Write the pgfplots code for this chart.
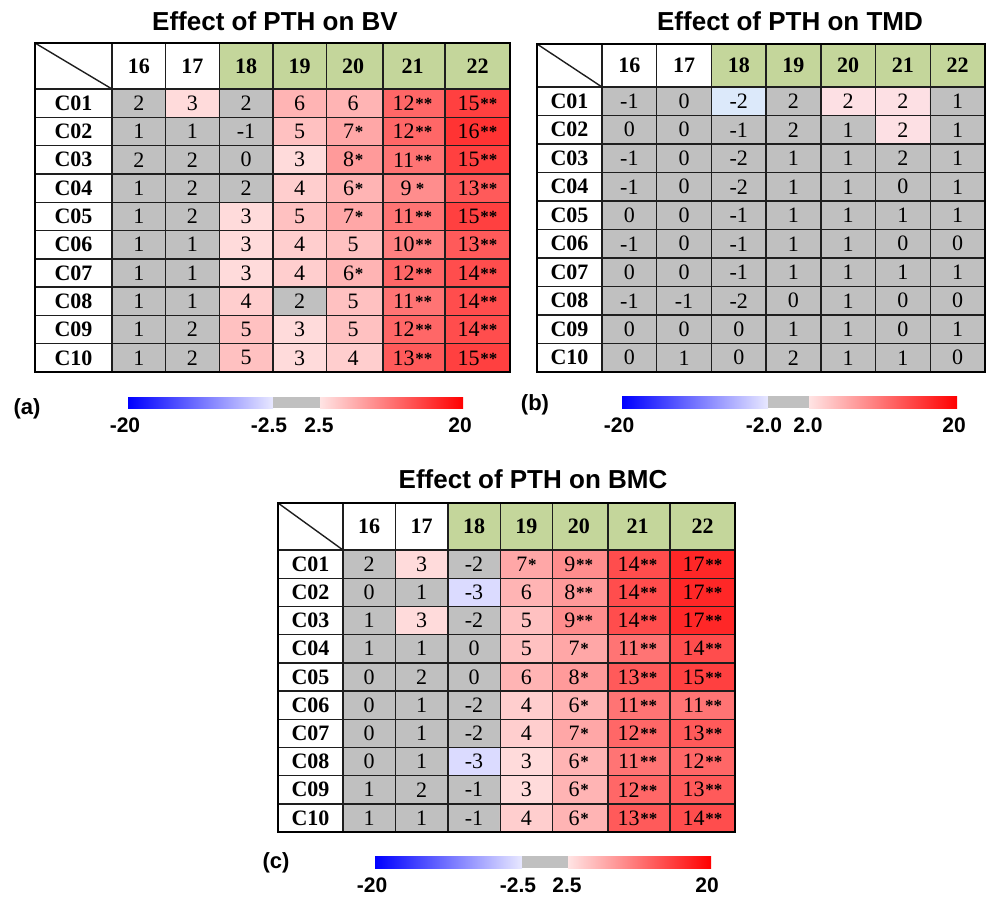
\documentclass[border=0pt]{standalone}
\usepackage{fontspec}
\setmainfont{Liberation Serif}
\newfontfamily\arial{Liberation Sans}
\usepackage{pgfplots}
\usepackage{pgfplotstable}
\pgfplotsset{compat=1.18}

\definecolor{hdrgreen}{RGB}{196,214,155}
\definecolor{cellgray}{RGB}{192,192,192}
\definecolor{lowblue}{RGB}{232,232,255}
\definecolor{lowred}{RGB}{255,228,228}
\definecolor{gridcol}{RGB}{30,30,30}

% colour scales: grey inside +-2.5 (BV, BMC) or +-2.0 (TMD)
\pgfplotsset{
  colormap={pthB}{rgb255(0pt)=(0,0,255) rgb255(178pt)=(220,233,250)
    rgb255(179pt)=(192,192,192) rgb255(221pt)=(192,192,192)
    rgb255(222pt)=(253,224,228) rgb255(400pt)=(255,0,0)},
  colormap={pthA}{rgb255(0pt)=(0,0,255) rgb255(175pt)=(225,225,255)
    rgb255(176pt)=(192,192,192) rgb255(224pt)=(192,192,192)
    rgb255(225pt)=(255,225,225) rgb255(400pt)=(255,0,0)},
}

\protected\def\sA{\kern0.4pt\raisebox{0.5pt}{\fontsize{8.5}{8.5}\selectfont\bfseries *}}
\protected\def\sB{\kern0.4pt\raisebox{0.5pt}{\fontsize{8.5}{8.5}\selectfont\bfseries **}}
\newcommand\tabfont{\fontsize{11}{11}\selectfont}
\newcommand\sansfont{\arial\bfseries}

\tikzset{
  hdr/.style={font=\tabfont\bfseries, inner sep=0pt, anchor=center},
  grd/.style={gridcol, line width=0.7pt},
}

% c = column (1..7 -> 16..22), r = row (C01..C10), v = value for colour, lab = printed
\pgfplotstableread[row sep=\\]{
c r v lab\\
1 1 2 2\\ 2 1 3 3\\ 3 1 2 2\\ 4 1 6 6\\ 5 1 6 6\\ 6 1 12 12\sB\\ 7 1 15 15\sB\\
1 2 1 1\\ 2 2 1 1\\ 3 2 -1 -1\\ 4 2 5 5\\ 5 2 7 7\sA\\ 6 2 12 12\sB\\ 7 2 16 16\sB\\
1 3 2 2\\ 2 3 2 2\\ 3 3 0 0\\ 4 3 3 3\\ 5 3 8 8\sA\\ 6 3 11 11\sB\\ 7 3 15 15\sB\\
1 4 1 1\\ 2 4 2 2\\ 3 4 2 2\\ 4 4 4 4\\ 5 4 6 6\sA\\ 6 4 9 9\,\sA\\ 7 4 13 13\sB\\
1 5 1 1\\ 2 5 2 2\\ 3 5 3 3\\ 4 5 5 5\\ 5 5 7 7\sA\\ 6 5 11 11\sB\\ 7 5 15 15\sB\\
1 6 1 1\\ 2 6 1 1\\ 3 6 3 3\\ 4 6 4 4\\ 5 6 5 5\\ 6 6 10 10\sB\\ 7 6 13 13\sB\\
1 7 1 1\\ 2 7 1 1\\ 3 7 3 3\\ 4 7 4 4\\ 5 7 6 6\sA\\ 6 7 12 12\sB\\ 7 7 14 14\sB\\
1 8 1 1\\ 2 8 1 1\\ 3 8 4 4\\ 4 8 2 2\\ 5 8 5 5\\ 6 8 11 11\sB\\ 7 8 14 14\sB\\
1 9 1 1\\ 2 9 2 2\\ 3 9 5 5\\ 4 9 3 3\\ 5 9 5 5\\ 6 9 12 12\sB\\ 7 9 14 14\sB\\
1 10 1 1\\ 2 10 2 2\\ 3 10 5 5\\ 4 10 3 3\\ 5 10 4 4\\ 6 10 13 13\sB\\ 7 10 15 15\sB\\
}\bvdata

\pgfplotstableread[row sep=\\]{
c r v lab\\
1 1 -1 -1\\ 2 1 0 0\\ 3 1 -2.2 -2\\ 4 1 2 2\\ 5 1 2.2 2\\ 6 1 2.2 2\\ 7 1 1 1\\
1 2 0 0\\ 2 2 0 0\\ 3 2 -1 -1\\ 4 2 2 2\\ 5 2 1 1\\ 6 2 2.2 2\\ 7 2 1 1\\
1 3 -1 -1\\ 2 3 0 0\\ 3 3 -2 -2\\ 4 3 1 1\\ 5 3 1 1\\ 6 3 2 2\\ 7 3 1 1\\
1 4 -1 -1\\ 2 4 0 0\\ 3 4 -2 -2\\ 4 4 1 1\\ 5 4 1 1\\ 6 4 0 0\\ 7 4 1 1\\
1 5 0 0\\ 2 5 0 0\\ 3 5 -1 -1\\ 4 5 1 1\\ 5 5 1 1\\ 6 5 1 1\\ 7 5 1 1\\
1 6 -1 -1\\ 2 6 0 0\\ 3 6 -1 -1\\ 4 6 1 1\\ 5 6 1 1\\ 6 6 0 0\\ 7 6 0 0\\
1 7 0 0\\ 2 7 0 0\\ 3 7 -1 -1\\ 4 7 1 1\\ 5 7 1 1\\ 6 7 1 1\\ 7 7 1 1\\
1 8 -1 -1\\ 2 8 -1 -1\\ 3 8 -2 -2\\ 4 8 0 0\\ 5 8 1 1\\ 6 8 0 0\\ 7 8 0 0\\
1 9 0 0\\ 2 9 0 0\\ 3 9 0 0\\ 4 9 1 1\\ 5 9 1 1\\ 6 9 0 0\\ 7 9 1 1\\
1 10 0 0\\ 2 10 1 1\\ 3 10 0 0\\ 4 10 2 2\\ 5 10 1 1\\ 6 10 1 1\\ 7 10 0 0\\
}\tmddata

\pgfplotstableread[row sep=\\]{
c r v lab\\
1 1 2 2\\ 2 1 3 3\\ 3 1 -2 -2\\ 4 1 7 7\sA\\ 5 1 9 9\sB\\ 6 1 14 14\sB\\ 7 1 17 17\sB\\
1 2 0 0\\ 2 2 1 1\\ 3 2 -3 -3\\ 4 2 6 6\\ 5 2 8 8\sB\\ 6 2 14 14\sB\\ 7 2 17 17\sB\\
1 3 1 1\\ 2 3 3 3\\ 3 3 -2 -2\\ 4 3 5 5\\ 5 3 9 9\sB\\ 6 3 14 14\sB\\ 7 3 17 17\sB\\
1 4 1 1\\ 2 4 1 1\\ 3 4 0 0\\ 4 4 5 5\\ 5 4 7 7\sA\\ 6 4 11 11\sB\\ 7 4 14 14\sB\\
1 5 0 0\\ 2 5 2 2\\ 3 5 0 0\\ 4 5 6 6\\ 5 5 8 8\sA\\ 6 5 13 13\sB\\ 7 5 15 15\sB\\
1 6 0 0\\ 2 6 1 1\\ 3 6 -2 -2\\ 4 6 4 4\\ 5 6 6 6\sA\\ 6 6 11 11\sB\\ 7 6 11 11\sB\\
1 7 0 0\\ 2 7 1 1\\ 3 7 -2 -2\\ 4 7 4 4\\ 5 7 7 7\sA\\ 6 7 12 12\sB\\ 7 7 13 13\sB\\
1 8 0 0\\ 2 8 1 1\\ 3 8 -3 -3\\ 4 8 3 3\\ 5 8 6 6\sA\\ 6 8 11 11\sB\\ 7 8 12 12\sB\\
1 9 1 1\\ 2 9 2 2\\ 3 9 -1 -1\\ 4 9 3 3\\ 5 9 6 6\sA\\ 6 9 12 12\sB\\ 7 9 13 13\sB\\
1 10 1 1\\ 2 10 1 1\\ 3 10 -1 -1\\ 4 10 4 4\\ 5 10 6 6\sA\\ 6 10 13 13\sB\\ 7 10 14 14\sB\\
}\bmcdata

\begin{document}
\begin{tikzpicture}
\begin{axis}[
  scale only axis, width=494pt, height=448pt,
  xmin=0, xmax=988, ymin=0, ymax=896, y dir=reverse,
  hide axis, clip=false,
  point meta min=-20, point meta max=20,
  declare function={
    cxa(\c) = ifthenelse(\c<6, 112+53.6*(\c-0.5), 412.5+65*(\c-6));
    rya(\r) = 89+28.3*(\r-0.5);
    cxb(\c) = 602+54.7*(\c-0.5);
    ryb(\r) = 87+28.5*(\r-0.5);
    cxc(\c) = ifthenelse(\c<6, 343+52.4*(\c-0.5), 637.5+65*(\c-6));
    ryc(\r) = 550+28.2*(\r-0.5);
  },
  every node near coord/.append style={anchor=center, inner sep=0pt, font=\tabfont, text=black},
]
\path (axis cs:0,0) rectangle (axis cs:988,896);

% ---------------- (a) BV ----------------
\fill[hdrgreen] (axis cs:219.2,43) rectangle (axis cs:510,89);
\addplot[matrix plot*, colormap name=pthA, mesh/cols=7, point meta=explicit]
  table[x expr={cxa(\thisrow{c})}, y expr={rya(\thisrow{r})}, meta=v]{\bvdata};
\pgfplotsinvokeforeach{112,165.6,219.2,272.8,326.4,382.85,445}{
  \draw[grd] (axis cs:#1,43) -- (axis cs:#1,372);}
\pgfplotsinvokeforeach{89,117.3,145.6,173.9,202.2,230.5,258.8,287.1,315.4,343.7}{
  \draw[grd] (axis cs:35,#1) -- (axis cs:510,#1);}
\draw[grd] (axis cs:35,43) -- (axis cs:112,89);
\draw[black, line width=1.1pt] (axis cs:35,43) rectangle (axis cs:510,372);
\addplot[draw=none, mark=none, nodes near coords, point meta=explicit symbolic]
  table[x expr={cxa(\thisrow{c})}, y expr={rya(\thisrow{r})}, meta=lab]{\bvdata};
\pgfplotsinvokeforeach{1,...,7}{
  \node[hdr] at (axis cs:{cxa(#1)},66) {\number\numexpr15+#1\relax};}
\pgfplotsinvokeforeach{1,...,10}{
  \node[hdr] at (axis cs:73.5,{rya(#1)}) {C\ifnum#1<10 0\fi#1};}
\node[font=\fontsize{13}{13}\selectfont\sansfont] at (axis cs:275,21) {Effect of PTH on BV};
\shade[left color=blue, right color=lowblue] (axis cs:128,397) rectangle (axis cs:273,408);
\fill[cellgray] (axis cs:273,397) rectangle (axis cs:320,408);
\shade[left color=lowred, right color=red] (axis cs:320,397) rectangle (axis cs:463,408);
\node[font=\fontsize{10.5}{10.5}\selectfont\sansfont] at (axis cs:125,425) {-20};
\node[font=\fontsize{10.5}{10.5}\selectfont\sansfont] at (axis cs:269,425) {-2.5};
\node[font=\fontsize{10.5}{10.5}\selectfont\sansfont] at (axis cs:319,425) {2.5};
\node[font=\fontsize{10.5}{10.5}\selectfont\sansfont] at (axis cs:460,425) {20};
\node[font=\fontsize{11}{11}\selectfont\sansfont] at (axis cs:27,409) {(a)};

% ---------------- (b) TMD ----------------
\fill[hdrgreen] (axis cs:711.4,44) rectangle (axis cs:985,87);
\addplot[matrix plot*, colormap name=pthB, mesh/cols=7, point meta=explicit]
  table[x expr={cxb(\thisrow{c})}, y expr={ryb(\thisrow{r})}, meta=v]{\tmddata};
\pgfplotsinvokeforeach{602,656.7,711.4,766.1,820.8,875.5,930.2}{
  \draw[grd] (axis cs:#1,44) -- (axis cs:#1,372);}
\pgfplotsinvokeforeach{87,115.5,144,172.5,201,229.5,258,286.5,315,343.5}{
  \draw[grd] (axis cs:537,#1) -- (axis cs:985,#1);}
\draw[grd] (axis cs:537,44) -- (axis cs:602,87);
\draw[black, line width=1.1pt] (axis cs:537,44) rectangle (axis cs:985,372);
\addplot[draw=none, mark=none, nodes near coords, point meta=explicit symbolic]
  table[x expr={cxb(\thisrow{c})}, y expr={ryb(\thisrow{r})}, meta=lab]{\tmddata};
\pgfplotsinvokeforeach{1,...,7}{
  \node[hdr] at (axis cs:{cxb(#1)},65.5) {\number\numexpr15+#1\relax};}
\pgfplotsinvokeforeach{1,...,10}{
  \node[hdr] at (axis cs:569.5,{ryb(#1)}) {C\ifnum#1<10 0\fi#1};}
\node[font=\fontsize{13}{13}\selectfont\sansfont] at (axis cs:790,21) {Effect of PTH on TMD};
\shade[left color=blue, right color=lowblue] (axis cs:622,396) rectangle (axis cs:768,408);
\fill[cellgray] (axis cs:768,396) rectangle (axis cs:809,408);
\shade[left color=lowred, right color=red] (axis cs:809,396) rectangle (axis cs:957,408);
\node[font=\fontsize{10.5}{10.5}\selectfont\sansfont] at (axis cs:619,425) {-20};
\node[font=\fontsize{10.5}{10.5}\selectfont\sansfont] at (axis cs:764,425) {-2.0};
\node[font=\fontsize{10.5}{10.5}\selectfont\sansfont] at (axis cs:808,425) {2.0};
\node[font=\fontsize{10.5}{10.5}\selectfont\sansfont] at (axis cs:954,425) {20};
\node[font=\fontsize{11}{11}\selectfont\sansfont] at (axis cs:535,405) {(b)};

% ---------------- (c) BMC ----------------
\fill[hdrgreen] (axis cs:447.8,503) rectangle (axis cs:735,550);
\addplot[matrix plot*, colormap name=pthA, mesh/cols=7, point meta=explicit]
  table[x expr={cxc(\thisrow{c})}, y expr={ryc(\thisrow{r})}, meta=v]{\bmcdata};
\pgfplotsinvokeforeach{343,395.4,447.8,500.2,552.6,608.15,670}{
  \draw[grd] (axis cs:#1,503) -- (axis cs:#1,832);}
\pgfplotsinvokeforeach{550,578.2,606.4,634.6,662.8,691,719.2,747.4,775.6,803.8}{
  \draw[grd] (axis cs:278,#1) -- (axis cs:735,#1);}
\draw[grd] (axis cs:278,503) -- (axis cs:343,550);
\draw[black, line width=1.1pt] (axis cs:278,503) rectangle (axis cs:735,832);
\addplot[draw=none, mark=none, nodes near coords, point meta=explicit symbolic]
  table[x expr={cxc(\thisrow{c})}, y expr={ryc(\thisrow{r})}, meta=lab]{\bmcdata};
\pgfplotsinvokeforeach{1,...,7}{
  \node[hdr] at (axis cs:{cxc(#1)},526.5) {\number\numexpr15+#1\relax};}
\pgfplotsinvokeforeach{1,...,10}{
  \node[hdr] at (axis cs:310.5,{ryc(#1)}) {C\ifnum#1<10 0\fi#1};}
\node[font=\fontsize{13}{13}\selectfont\sansfont] at (axis cs:533,479) {Effect of PTH on BMC};
\shade[left color=blue, right color=lowblue] (axis cs:375,856) rectangle (axis cs:522,868);
\fill[cellgray] (axis cs:522,856) rectangle (axis cs:568,868);
\shade[left color=lowred, right color=red] (axis cs:568,856) rectangle (axis cs:711,868);
\node[font=\fontsize{10.5}{10.5}\selectfont\sansfont] at (axis cs:372,885) {-20};
\node[font=\fontsize{10.5}{10.5}\selectfont\sansfont] at (axis cs:518,885) {-2.5};
\node[font=\fontsize{10.5}{10.5}\selectfont\sansfont] at (axis cs:567,885) {2.5};
\node[font=\fontsize{10.5}{10.5}\selectfont\sansfont] at (axis cs:707,885) {20};
\node[font=\fontsize{11}{11}\selectfont\sansfont] at (axis cs:276,863) {(c)};
\end{axis}
\end{tikzpicture}
\end{document}
